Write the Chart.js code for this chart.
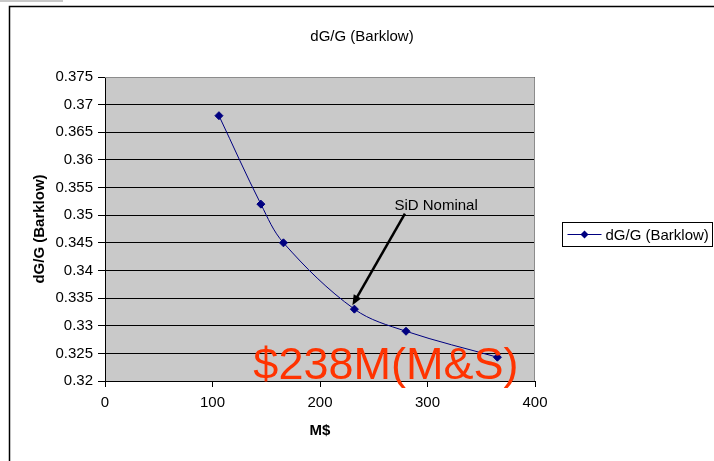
<!DOCTYPE html>
<html>
<head>
<meta charset="utf-8">
<script src="https://cdn.jsdelivr.net/npm/chart.js@4.4.1/dist/chart.umd.min.js"></script>
<style>
  html, body { margin: 0; padding: 0; background: #fff; }
  #wrap { width: 714px; height: 461px; }
</style>
</head>
<body>
<div id="wrap"><canvas id="chart" width="714" height="461"></canvas></div>
<script>
// cost in M$ vs dG/G (Barklow)
const costMs = [106, 145, 166, 232, 280, 365]
const dgG = [0.368, 0.352, 0.345, 0.333, 0.329, 0.3243]
const seriesName = 'dG/G (Barklow)'

const xTicks = [0, 100, 200, 300, 400]
const yMin = 0.32
const yMax = 0.375
const yStep = 0.005

// the point the arrow points at (SiD nominal design)
const nominalIndex = 3

const FONT = '"Liberation Sans", Arial, sans-serif'
const NAVY = '#000080'

const decorations = {
    id: 'decorations',
    beforeDraw(chart) {
        const { ctx, chartArea: a } = chart
        ctx.save()
        ctx.fillStyle = '#fff'
        ctx.fillRect(0, 0, chart.width, chart.height)
        // little grey strip top-left
        ctx.fillStyle = '#c8c8c8'
        ctx.fillRect(0, 0, 63, 2)
        // chart frame (left + top)
        ctx.strokeStyle = '#000'
        ctx.lineWidth = 1.5
        ctx.beginPath()
        ctx.moveTo(9.5, chart.height)
        ctx.lineTo(9.5, 6.5)
        ctx.lineTo(chart.width, 6.5)
        ctx.stroke()
        // plot area fill
        ctx.fillStyle = '#c9c9c9'
        ctx.fillRect(a.left, a.top, a.right - a.left, a.bottom - a.top)
        ctx.restore()
    },
    beforeDatasetsDraw(chart) {
        const { ctx, chartArea: a } = chart
        ctx.save()
        ctx.strokeStyle = '#8c8c8c'
        ctx.lineWidth = 1
        ctx.beginPath()
        ctx.moveTo(a.left, a.top + 0.5)
        ctx.lineTo(a.right - 0.5, a.top + 0.5)
        ctx.lineTo(a.right - 0.5, a.bottom)
        ctx.stroke()
        ctx.restore()
    },
    afterDraw(chart) {
        const { ctx } = chart
        const xs = chart.scales.x
        const ys = chart.scales.y
        ctx.save()

        // "SiD Nominal" label and arrow
        const tipX = xs.getPixelForValue(costMs[nominalIndex]) - 2
        const tipY = ys.getPixelForValue(dgG[nominalIndex]) - 4
        const fromX = xs.getPixelForValue(279)
        const fromY = ys.getPixelForValue(0.3503)
        ctx.fillStyle = '#000'
        ctx.font = '15px ' + FONT
        ctx.textAlign = 'center'
        ctx.textBaseline = 'middle'
        ctx.fillText('SiD Nominal', xs.getPixelForValue(308), ys.getPixelForValue(0.3517))

        const ang = Math.atan2(tipY - fromY, tipX - fromX)
        const head = 11
        ctx.strokeStyle = '#000'
        ctx.lineWidth = 2.5
        ctx.beginPath()
        ctx.moveTo(fromX, fromY)
        ctx.lineTo(tipX - Math.cos(ang) * head * 0.8, tipY - Math.sin(ang) * head * 0.8)
        ctx.stroke()
        ctx.beginPath()
        ctx.moveTo(tipX, tipY)
        ctx.lineTo(tipX - head * Math.cos(ang - 0.4), tipY - head * Math.sin(ang - 0.4))
        ctx.lineTo(tipX - head * Math.cos(ang + 0.4), tipY - head * Math.sin(ang + 0.4))
        ctx.closePath()
        ctx.fill()

        // big cost note
        ctx.fillStyle = '#ff3300'
        ctx.font = '45px ' + FONT
        ctx.textAlign = 'left'
        ctx.textBaseline = 'alphabetic'
        ctx.fillText('$238M(M&S)', xs.getPixelForValue(138), ys.getPixelForValue(0.3203))

        // legend box
        const lx = 562.5, ly = 222.5, lw = 150, lh = 24
        ctx.strokeStyle = '#000'
        ctx.lineWidth = 1
        ctx.strokeRect(lx, ly, lw, lh)
        const cy = ly + lh / 2
        ctx.strokeStyle = NAVY
        ctx.beginPath()
        ctx.moveTo(lx + 5, cy)
        ctx.lineTo(lx + 39, cy)
        ctx.stroke()
        ctx.fillStyle = NAVY
        ctx.beginPath()
        ctx.moveTo(lx + 22, cy - 4)
        ctx.lineTo(lx + 26, cy)
        ctx.lineTo(lx + 22, cy + 4)
        ctx.lineTo(lx + 18, cy)
        ctx.closePath()
        ctx.fill()
        ctx.fillStyle = '#000'
        ctx.font = '15px ' + FONT
        ctx.textBaseline = 'middle'
        ctx.fillText(seriesName, lx + 43, cy + 1)

        ctx.restore()
    }
}

new Chart(document.getElementById('chart'), {
    type: 'line',
    data: {
        datasets: [{
            label: seriesName,
            data: costMs.map((x, i) => ({ x: x, y: dgG[i] })),
            borderColor: NAVY,
            backgroundColor: NAVY,
            borderWidth: 1,
            tension: 0.35,
            pointStyle: 'rectRot',
            pointRadius: 4,
            pointBorderWidth: 1,
            pointBackgroundColor: NAVY,
            pointBorderColor: NAVY
        }]
    },
    options: {
        responsive: false,
        animation: false,
        layout: {
            padding: { top: 7, left: 10, right: 0, bottom: 0 }
        },
        plugins: {
            legend: { display: false },
            tooltip: { enabled: false },
            title: {
                display: true,
                text: seriesName,
                color: '#000',
                font: { family: FONT, size: 15, weight: 'normal' },
                padding: { top: 21, bottom: 31 }
            }
        },
        scales: {
            x: {
                type: 'linear',
                min: xTicks[0],
                max: xTicks[xTicks.length - 1],
                afterBuildTicks: scale => {
                    scale.ticks = xTicks.map(v => ({ value: v }))
                },
                afterFit: scale => { scale.height = 80 },
                grid: {
                    drawOnChartArea: false,
                    drawTicks: true,
                    tickLength: 6,
                    color: '#000'
                },
                border: { color: '#000', width: 1 },
                ticks: {
                    color: '#000',
                    padding: 7,
                    maxRotation: 0,
                    font: { family: FONT, size: 15 }
                },
                title: {
                    display: true,
                    text: 'M$',
                    color: '#000',
                    font: { family: FONT, size: 15, weight: 'bold' },
                    padding: { top: 0, bottom: 21 }
                }
            },
            y: {
                min: yMin,
                max: yMax,
                afterFit: scale => { scale.width = 95 },
                grid: {
                    color: '#000',
                    drawTicks: true,
                    tickLength: 7
                },
                border: { color: '#000', width: 1 },
                ticks: {
                    stepSize: yStep,
                    color: '#000',
                    padding: 5,
                    font: { family: FONT, size: 15 },
                    callback: v => String(+v.toFixed(3))
                },
                title: {
                    display: true,
                    text: seriesName,
                    color: '#000',
                    font: { family: FONT, size: 15, weight: 'bold' },
                    padding: { top: 21, bottom: 0 }
                }
            },
            // empty right-hand axis that reserves the legend column
            legendSpace: {
                position: 'right',
                min: yMin,
                max: yMax,
                afterFit: scale => { scale.width = 179 },
                grid: { display: false },
                border: { display: false },
                ticks: { display: false }
            }
        }
    },
    plugins: [decorations]
})
</script>
</body>
</html>
